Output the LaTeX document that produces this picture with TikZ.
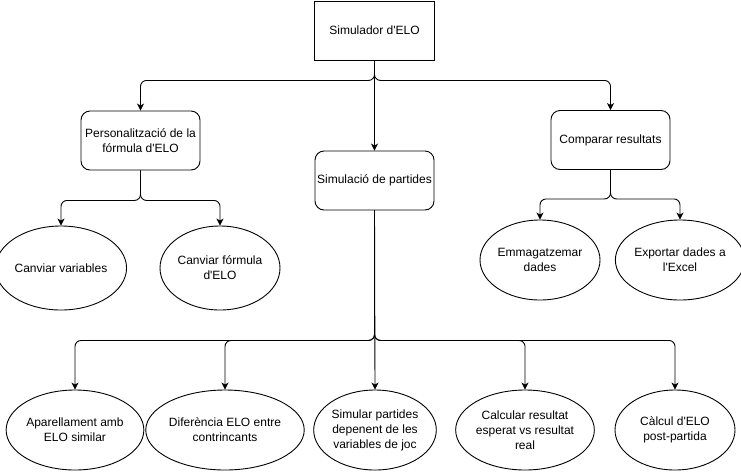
\documentclass[tikz,border=0pt]{standalone}
\usepackage{fontspec}
\setmainfont{Liberation Sans}
\usetikzlibrary{shapes.geometric,arrows.meta}
\newcommand{\ap}{\textquotesingle}

\begin{document}
\begin{tikzpicture}[x=1pt,y=-1pt,
 every node/.style={font=\fontsize{12}{15}\selectfont, align=center, inner sep=0pt},
 rootbox/.style={draw, line width=0.9pt, minimum width=120pt, minimum height=59pt},
 taskbox/.style={draw, line width=0.9pt, minimum width=119pt, minimum height=59pt, rounded corners=9pt},
 leaf/.style={draw, ellipse, line width=0.9pt, minimum width=120pt, minimum height=80pt},
 link/.style={line width=0.9pt, rounded corners=6pt, -{Stealth[length=7pt,width=7pt,inset=2pt]}}
]
\useasboundingbox (0,0) rectangle (741,472);

\node[rootbox] (root) at (374.5,30.5) {Simulador d\ap ELO};
\node[taskbox] (pers) at (140.5,140.5) {Personalització de la\\fórmula d\ap ELO};
\node[taskbox] (sim) at (374.5,180.5) {Simulació de partides};
\node[taskbox] (comp) at (610.5,140) {Comparar resultats};

\node[leaf, minimum height=84pt] (cv) at (61,268) {Canviar variables};
\node[leaf, minimum height=84pt] (cf) at (220,268) {Canviar fórmula\\d\ap ELO};
\node[leaf] (emm) at (540,260) {Emmagatzemar\\dades};
\node[leaf] (exp) at (680,260) {Exportar dades a\\l\ap Excel};

\node[leaf] (b1) at (75,430) {Aparellament amb\\ELO similar};
\node[leaf] (b2) at (225,430) {Diferència ELO entre\\contrincants};
\node[leaf] (b3) at (375,430) {Simular partides\\depenent de les\\variables de joc};
\node[leaf] (b4) at (525,430) {Calcular resultat\\esperat vs resultat\\real};
\node[leaf] (b5) at (675,430) {Càlcul d\ap ELO\\post-partida};

\draw[link] (root.south) -- ++(0,20) -| (pers.north);
\draw[link] (root.south) -- (sim.north);
\draw[link] (root.south) -- ++(0,20) -| (comp.north);

\draw[link] (pers.south) -- ++(0,30) -| (cv.north);
\draw[link] (pers.south) -- ++(0,30) -| (cf.north);

\draw[link] (comp.south) -- ++(0,29) -| (emm.north);
\draw[link] (comp.south) -- ++(0,29) -| (exp.north);

\draw[link] (sim.south) -- ++(0,130) -| (b1.north);
\draw[link] (sim.south) -- ++(0,130) -| (b2.north);
\draw[link] (sim.south) -- (b3.north);
\draw[link] (sim.south) -- ++(0,130) -| (b4.north);
\draw[link] (sim.south) -- ++(0,130) -| (b5.north);
\end{tikzpicture}
\end{document}
